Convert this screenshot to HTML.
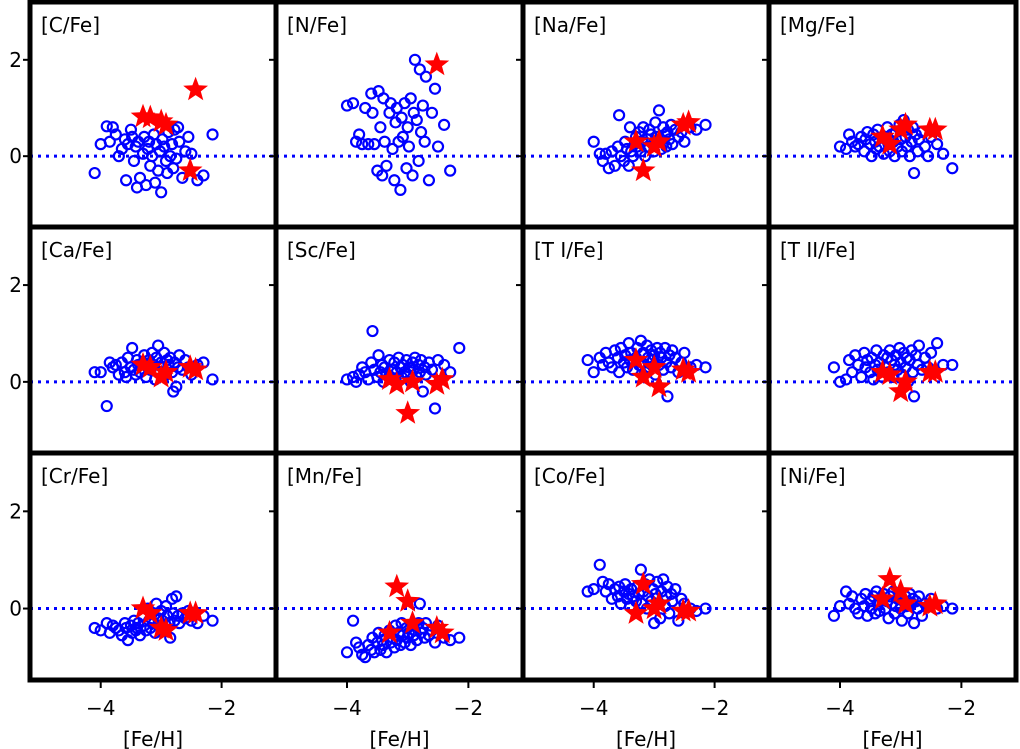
<!DOCTYPE html>
<html><head><meta charset="utf-8"><style>
html,body{margin:0;padding:0;background:#fff;}
svg{display:block;font-family:"DejaVu Sans","Liberation Sans",sans-serif;}
</style></head><body>
<svg id="chart" width="1020" height="749" viewBox="0 0 1020 749"></svg>
<script>
const panelLabels=["[C/Fe]","[N/Fe]","[Na/Fe]","[Mg/Fe]","[Ca/Fe]","[Sc/Fe]","[T I/Fe]","[T II/Fe]","[Cr/Fe]","[Mn/Fe]","[Co/Fe]","[Ni/Fe]"];
const xTicks=[-4,-2];
const yTicks=[0,2];
const feh=[-4.1,-4.0,-3.9,-3.85,-3.8,-3.75,-3.7,-3.65,-3.6,-3.58,-3.55,-3.5,-3.48,-3.45,-3.42,-3.4,-3.38,-3.35,-3.3,-3.28,-3.25,-3.22,-3.2,-3.18,-3.15,-3.12,-3.1,-3.08,-3.05,-3.02,-3.0,-2.98,-2.95,-2.92,-2.9,-2.88,-2.85,-2.82,-2.8,-2.78,-2.75,-2.72,-2.7,-2.65,-2.6,-2.55,-2.5,-2.4,-2.3,-2.15];
const starFeh=[-3.3,-3.18,-3.0,-2.92,-2.52,-2.43];
const yC=[-0.35,0.25,0.62,0.3,0.6,0.45,0.0,0.15,0.35,-0.5,0.25,0.55,0.4,-0.1,0.2,-0.65,0.3,-0.45,0.05,0.4,-0.6,0.15,0.3,-0.2,0.0,0.45,-0.55,0.25,-0.3,0.1,-0.75,0.35,0.2,-0.1,-0.35,0.5,0.0,0.25,-0.25,0.55,-0.05,0.6,0.3,-0.45,0.1,0.4,0.05,-0.5,-0.4,0.45];
const yN=[null,1.05,1.1,0.3,0.45,0.25,1.0,0.25,1.3,0.9,0.25,-0.3,1.35,0.6,-0.4,1.2,0.3,-0.2,0.9,1.1,0.15,-0.5,0.7,1.0,0.3,-0.7,0.8,0.4,1.1,-0.25,0.6,0.2,1.2,-0.4,0.9,2.0,0.75,-0.1,1.8,0.5,1.05,0.3,1.65,-0.5,0.9,1.4,0.2,0.65,-0.3,null];
const yNa=[null,0.3,0.05,-0.1,0.05,-0.25,0.1,-0.2,0.2,0.85,0.0,-0.1,0.3,0.15,-0.2,0.6,0.1,0.0,0.4,0.2,0.5,0.1,0.3,0.6,0.0,0.35,0.2,0.55,0.45,0.25,0.1,0.7,0.4,0.95,0.3,0.15,0.6,0.45,0.2,0.5,0.35,0.65,0.25,0.55,0.4,0.5,0.3,0.6,0.55,0.65];
const yMg=[null,0.2,0.15,0.45,0.3,0.2,0.25,0.4,0.1,0.35,0.5,0.25,0.0,0.45,0.3,0.15,0.55,0.2,0.4,0.05,0.35,0.6,0.25,0.1,0.45,0.3,0.0,0.5,0.2,0.65,0.35,0.1,0.75,0.4,0.2,0.55,0.0,0.3,0.6,-0.35,0.45,0.1,0.35,0.5,0.2,0.0,0.4,0.25,0.05,-0.25];
const yCa=[0.2,0.2,-0.5,0.4,0.3,0.35,0.15,0.4,0.2,0.1,0.5,0.3,0.7,0.25,0.15,0.45,0.35,0.2,0.4,0.55,0.1,0.3,0.45,0.25,0.6,0.35,0.05,0.5,0.75,0.2,0.4,0.3,0.6,0.15,0.45,0.35,0.5,0.2,-0.2,0.4,-0.1,0.3,0.55,0.25,0.45,0.3,0.15,0.35,0.4,0.05];
const ySc=[null,0.05,0.1,0.0,0.15,0.3,0.2,0.05,0.4,1.05,0.25,0.1,0.55,0.2,0.35,0.0,0.3,0.15,0.45,0.1,0.25,0.4,0.05,0.2,0.5,0.3,0.1,0.35,0.2,0.45,0.15,0.3,0.0,0.4,0.25,0.5,0.1,0.35,0.2,0.45,-0.2,0.3,0.15,0.4,0.25,-0.55,0.45,0.35,0.2,0.7];
const yTI=[0.45,0.2,0.5,0.35,0.6,0.4,0.3,0.65,0.5,0.2,0.7,0.4,0.55,0.3,0.8,0.45,0.6,0.25,0.5,0.7,0.35,0.85,0.4,0.6,0.2,0.75,0.5,0.3,0.65,0.45,0.55,0.15,0.7,0.35,0.6,0.5,0.25,0.7,0.4,-0.3,0.55,0.3,0.65,0.5,0.2,0.4,0.6,0.3,0.35,0.3];
const yTII=[0.3,0.0,0.05,0.45,0.2,0.55,0.35,0.1,0.6,0.3,0.45,0.2,0.5,0.05,0.35,0.65,0.25,0.4,0.1,0.55,0.3,0.5,0.2,0.65,0.45,0.1,0.35,0.55,0.25,0.7,0.4,0.15,0.6,0.3,0.5,0.0,0.45,0.65,0.2,-0.3,0.55,0.35,0.75,0.25,0.5,0.3,0.6,0.8,0.35,0.35];
const yCr=[-0.4,-0.45,-0.3,-0.5,-0.35,-0.4,-0.45,-0.55,-0.3,-0.4,-0.65,-0.35,-0.5,-0.25,-0.45,-0.4,-0.3,-0.55,-0.15,-0.35,-0.45,0.0,-0.25,-0.4,-0.1,-0.3,-0.5,0.1,-0.2,-0.35,-0.05,-0.25,-0.45,0.05,-0.15,-0.3,-0.6,0.2,-0.1,-0.25,0.25,-0.15,-0.3,-0.1,-0.2,-0.05,-0.25,-0.3,-0.15,-0.25];
const yMn=[null,-0.9,-0.25,-0.7,-0.8,-0.95,-1.0,-0.75,-0.85,-0.6,-0.9,-0.7,-0.5,-0.85,-0.65,-0.75,-0.55,-0.9,-0.45,-0.7,-0.6,-0.8,-0.35,-0.65,-0.5,-0.75,-0.3,-0.55,-0.7,-0.4,-0.6,-0.5,-0.75,-0.35,-0.55,-0.45,-0.65,-0.3,0.1,-0.5,-0.4,-0.6,-0.3,-0.55,-0.45,-0.7,-0.35,-0.6,-0.65,-0.6];
const yCo=[0.35,0.4,0.9,0.55,0.35,0.5,0.2,0.4,0.25,0.45,0.1,0.35,0.5,0.2,0.3,0.05,0.4,0.25,0.15,0.45,0.3,0.8,0.1,0.35,0.5,0.0,0.25,0.6,0.15,0.4,-0.3,0.3,0.55,0.1,-0.2,0.35,0.6,0.05,0.25,0.45,-0.1,0.3,0.15,0.4,-0.25,0.2,0.1,0.0,-0.05,0.0];
const yNi=[-0.15,0.05,0.35,0.1,0.25,0.0,-0.1,0.2,0.05,0.3,-0.15,0.15,0.0,0.25,-0.1,0.35,0.1,-0.05,0.2,0.3,0.0,0.15,-0.2,0.25,0.1,0.35,-0.1,0.05,0.2,0.3,0.0,-0.25,0.15,0.25,0.05,-0.1,0.3,0.1,0.2,-0.3,0.15,0.0,0.25,-0.15,0.1,0.05,0.2,0.0,0.05,0.0];
const circleY=[yC,yN,yNa,yMg,yCa,ySc,yTI,yTII,yCr,yMn,yCo,yNi];
const sC=[0.82,0.8,0.72,0.65,-0.3,1.38];
const sN=[null,null,null,null,1.9,null];
const sNa=[0.3,-0.3,0.2,0.3,0.65,0.7];
const sMg=[0.4,0.25,0.55,0.65,0.55,0.55];
const sCa=[0.35,0.3,0.1,0.2,0.3,0.25];
const sSc=[0.05,-0.05,-0.65,0.0,-0.05,0.05];
const sTI=[0.45,0.1,0.3,-0.1,0.25,0.2];
const sTII=[0.2,0.15,-0.2,0.0,0.2,0.2];
const sCr=[0.0,-0.1,-0.4,-0.45,-0.1,-0.1];
const sMn=[-0.5,0.45,0.15,-0.3,-0.4,-0.5];
const sCo=[-0.1,0.5,0.0,0.1,-0.05,-0.05];
const sNi=[0.2,0.6,0.35,0.1,0.05,0.1];
const starY=[sC,sN,sNa,sMg,sCa,sSc,sTI,sTII,sCr,sMn,sCo,sNi];

const NS="http://www.w3.org/2000/svg";
const svg=document.getElementById('chart');
const colX=[30,276,523,769,1016];
const rowY=[2,227,453,680];
const xmin=-5.17,xmax=-1.1,ymin=-1.47,ymax=3.2;
function mk(tag,attrs,parent){const e=document.createElementNS(NS,tag);for(const k in attrs)e.setAttribute(k,attrs[k]);(parent||svg).appendChild(e);return e;}
function starPath(cx,cy,R){const r=R*0.42;let d='';for(let i=0;i<10;i++){const a=-Math.PI/2+i*Math.PI/5;const rr=i%2?r:R;d+=(i?'L':'M')+(cx+rr*Math.cos(a)).toFixed(1)+','+(cy+rr*Math.sin(a)).toFixed(1);}return d+'Z';}
for(let p=0;p<12;p++){
  const c=p%4,r=Math.floor(p/4);
  const L=colX[c],R=colX[c+1],T=rowY[r],B=rowY[r+1];
  const sx=v=>L+(v-xmin)/(xmax-xmin)*(R-L);
  const sy=v=>B-(v-ymin)/(ymax-ymin)*(B-T);
  const g=mk('g',{});
  
  
  mk('rect',{x:L,y:T,width:R-L,height:B-T,fill:'#fff'},g);
  const zl=mk('line',{x1:L,x2:R,y1:sy(0),y2:sy(0),stroke:'#0000ff','stroke-width':3,'stroke-dasharray':'3 5'},g);
  
  
  const ys=circleY[p];
  for(let i=0;i<feh.length;i++){ if(ys[i]==null)continue;
    const ci=mk('circle',{cx:sx(feh[i]),cy:sy(ys[i]),r:5,fill:'none',stroke:'#0000ff','stroke-width':2.2},g);
    
    
  }
  const ss=starY[p];
  for(let i=0;i<starFeh.length;i++){ if(ss[i]==null)continue;
    const st=mk('path',{d:starPath(sx(starFeh[i]),sy(ss[i]),13),fill:'#ff0000'},g);
    
    
  }
  const lb=mk('text',{x:L+11,y:T+30,'font-size':20,fill:'#000'},g);
  lb.textContent=panelLabels[p];
  
  
  for(const t of yTicks){mk('line',{x1:L-7,x2:L,y1:sy(t),y2:sy(t),stroke:'#000','stroke-width':2},g);
    if(c===0){const tl=mk('text',{x:L-8,y:sy(t)+7,'font-size':20,'text-anchor':'end'},g);tl.textContent=String(t);
      
      }}
  if(r===2){
    for(const t of xTicks){mk('line',{x1:sx(t),x2:sx(t),y1:B,y2:B+8,stroke:'#000','stroke-width':2},g);
      const tl=mk('text',{x:sx(t),y:B+35,'font-size':20,'text-anchor':'middle'},g);tl.textContent='\u2212'+Math.abs(t);
      
      }
    const xl=mk('text',{x:(L+R)/2,y:B+66,'font-size':20,'text-anchor':'middle'},g);xl.textContent='[Fe/H]';
    
    
  }
}
for(let p=0;p<12;p++){const c=p%4,r=Math.floor(p/4);
  mk('rect',{x:colX[c],y:rowY[r],width:colX[c+1]-colX[c],height:rowY[r+1]-rowY[r],fill:'none',stroke:'#000','stroke-width':5});}
</script>
</body></html>
